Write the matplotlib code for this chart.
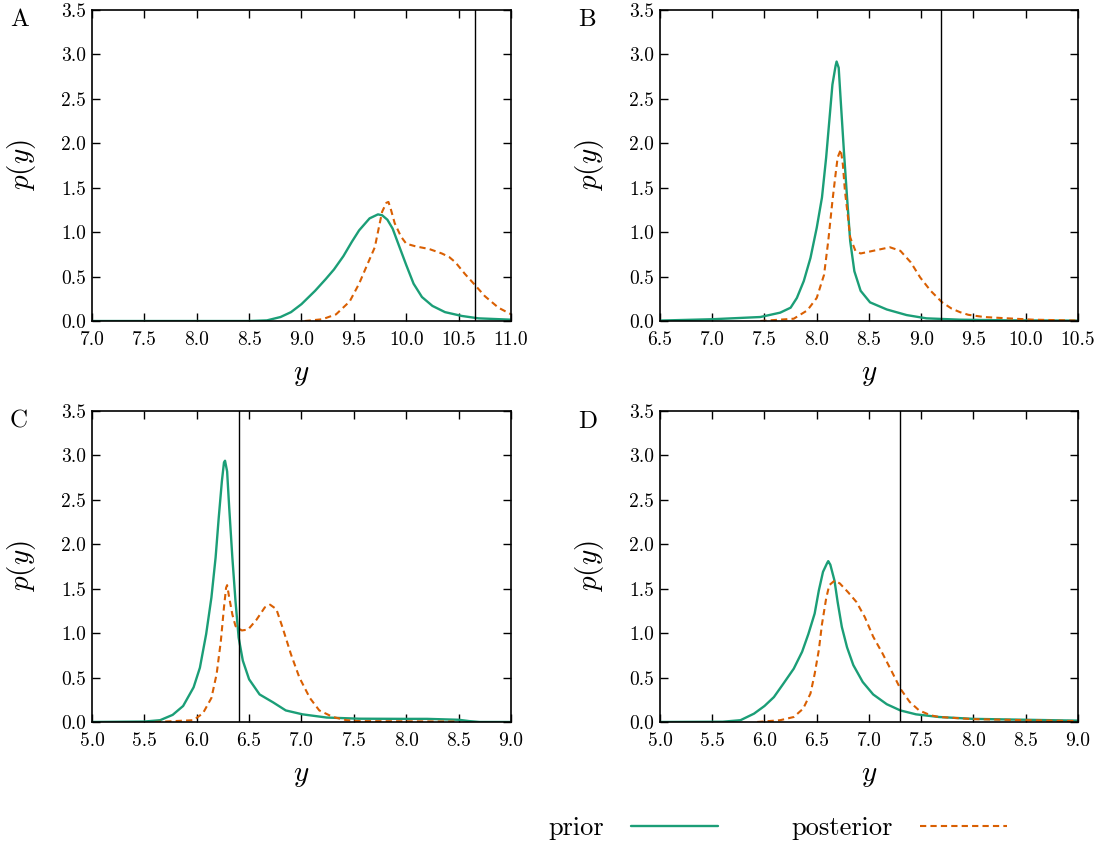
import matplotlib
matplotlib.use("Agg")
import matplotlib.pyplot as plt

plt.rcParams['font.family'] = 'serif'
plt.rcParams['font.serif'] = ['cmr10']
plt.rcParams['mathtext.fontset'] = 'cm'
plt.rcParams['axes.formatter.use_mathtext'] = True

GREEN = '#1b9e77'
ORANGE = '#d95f02'

# panel A
a_prior_x = [7.0, 8.0, 8.5, 8.67, 8.8, 8.9, 9.0, 9.13, 9.23, 9.31, 9.4, 9.48, 9.55, 9.65,
             9.73, 9.77, 9.82, 9.87, 9.93, 10.0, 10.07, 10.15, 10.25, 10.37, 10.53, 10.69, 11.0]
a_prior_y = [0.0, 0.0, 0.0, 0.007, 0.045, 0.1, 0.19, 0.34, 0.47, 0.58, 0.73, 0.89, 1.02, 1.155,
             1.2, 1.19, 1.14, 1.04, 0.85, 0.63, 0.42, 0.27, 0.17, 0.1, 0.057, 0.03, 0.015]
a_post_x = [9.03, 9.2, 9.33, 9.46, 9.55, 9.63, 9.7, 9.74, 9.77, 9.81, 9.83, 9.85, 9.89, 9.95,
            10.0, 10.09, 10.22, 10.34, 10.41, 10.47, 10.56, 10.66, 10.75, 10.88, 11.0]
a_post_y = [0.0, 0.02, 0.075, 0.22, 0.42, 0.64, 0.83, 1.06, 1.23, 1.33, 1.34, 1.27, 1.1, 0.95,
            0.87, 0.84, 0.81, 0.76, 0.72, 0.66, 0.53, 0.4, 0.28, 0.15, 0.076]

# panel B
b_prior_x = [6.5, 7.0, 7.46, 7.65, 7.75, 7.81, 7.876, 7.94, 8.0, 8.05, 8.09, 8.12, 8.15, 8.18,
             8.19, 8.21, 8.23, 8.26, 8.29, 8.32, 8.36, 8.42, 8.51, 8.67, 8.86, 9.05, 9.37, 9.8,
             10.5]
b_prior_y = [0.005, 0.02, 0.045, 0.094, 0.15, 0.26, 0.45, 0.71, 1.05, 1.39, 1.84, 2.25, 2.66,
             2.87, 2.92, 2.85, 2.47, 1.91, 1.39, 0.9, 0.56, 0.34, 0.21, 0.13, 0.067, 0.03,
             0.015, 0.008, 0.004]
b_post_x = [7.46, 7.78, 7.91, 8.0, 8.07, 8.11, 8.15, 8.18, 8.2, 8.23, 8.25, 8.27, 8.3, 8.32,
            8.37, 8.42, 8.54, 8.7, 8.8, 8.9, 8.99, 9.09, 9.2, 9.29, 9.37, 9.45, 9.6, 9.75,
            10.07, 10.5]
b_post_y = [0.0, 0.026, 0.12, 0.26, 0.52, 0.9, 1.35, 1.65, 1.84, 1.93, 1.76, 1.46, 1.16, 0.94,
            0.79, 0.76, 0.79, 0.83, 0.79, 0.66, 0.49, 0.34, 0.21, 0.14, 0.1, 0.07, 0.045,
            0.035, 0.015, 0.005]

# panel C
c_prior_x = [5.0, 5.5, 5.65, 5.77, 5.87, 5.97, 6.03, 6.09, 6.14, 6.18, 6.21, 6.24, 6.26, 6.27,
             6.29, 6.31, 6.34, 6.37, 6.4, 6.44, 6.5, 6.6, 6.73, 6.85, 7.01, 7.24, 7.55, 8.0,
             8.2, 8.5, 8.6, 8.7, 9.0]
c_prior_y = [0.0, 0.005, 0.02, 0.08, 0.18, 0.39, 0.61, 0.99, 1.4, 1.85, 2.3, 2.71, 2.92, 2.94,
             2.82, 2.41, 1.85, 1.36, 0.95, 0.69, 0.48, 0.31, 0.22, 0.13, 0.086, 0.05, 0.037,
             0.035, 0.035, 0.025, 0.01, 0.0, 0.0]
c_post_x = [5.6, 5.97, 6.06, 6.14, 6.19, 6.23, 6.26, 6.28, 6.29, 6.31, 6.34, 6.37, 6.43, 6.49,
            6.57, 6.65, 6.7, 6.76, 6.82, 6.9, 6.98, 7.08, 7.17, 7.3, 7.43, 7.55, 8.0, 8.5]
c_post_y = [0.0, 0.02, 0.1, 0.27, 0.54, 0.91, 1.29, 1.51, 1.54, 1.4, 1.21, 1.08, 1.03, 1.04,
            1.15, 1.29, 1.32, 1.27, 1.06, 0.76, 0.5, 0.27, 0.13, 0.056, 0.02, 0.01, 0.008,
            0.004]

# panel D
d_prior_x = [5.0, 5.6, 5.77, 5.9, 6.0, 6.09, 6.18, 6.28, 6.36, 6.42, 6.48, 6.52, 6.56, 6.6,
             6.61, 6.63, 6.67, 6.7, 6.74, 6.79, 6.85, 6.94, 7.04, 7.17, 7.3, 7.45, 7.67, 8.0,
             8.5, 9.0]
d_prior_y = [0.0, 0.003, 0.02, 0.094, 0.18, 0.28, 0.43, 0.6, 0.79, 0.99, 1.22, 1.48, 1.69,
             1.79, 1.81, 1.77, 1.59, 1.35, 1.07, 0.84, 0.64, 0.45, 0.31, 0.2, 0.13, 0.086,
             0.056, 0.035, 0.025, 0.015]
d_post_x = [5.93, 6.15, 6.28, 6.37, 6.44, 6.48, 6.52, 6.55, 6.59, 6.62, 6.67, 6.72, 6.8, 6.88,
            6.96, 7.04, 7.13, 7.23, 7.3, 7.39, 7.48, 7.59, 7.67, 8.0, 8.5, 9.0]
d_post_y = [0.0, 0.02, 0.056, 0.15, 0.32, 0.54, 0.81, 1.1, 1.39, 1.54, 1.59, 1.56, 1.46, 1.35,
            1.18, 0.96, 0.77, 0.54, 0.375, 0.225, 0.13, 0.075, 0.056, 0.032, 0.02, 0.01]

observed = [10.66, 9.19, 6.4, 7.3]
xlims = [(7.0, 11.0), (6.5, 10.5), (5.0, 9.0), (5.0, 9.0)]
letters = ['A', 'B', 'C', 'D']

panels = [(a_prior_x, a_prior_y, a_post_x, a_post_y),
          (b_prior_x, b_prior_y, b_post_x, b_post_y),
          (c_prior_x, c_prior_y, c_post_x, c_post_y),
          (d_prior_x, d_prior_y, d_post_x, d_post_y)]

# axes rectangles in figure fractions
rects = [(0.0831, 0.621, 0.3785, 0.3672),
         (0.5962, 0.621, 0.3776, 0.3672),
         (0.0831, 0.1476, 0.3785, 0.3672),
         (0.5962, 0.1476, 0.3776, 0.3672)]
letter_pos = [(0.009, 0.976), (0.522, 0.976), (0.009, 0.502), (0.522, 0.502)]

fig = plt.figure(figsize=(11.07, 8.47), dpi=100)

for i in range(4):
    ax = fig.add_axes(rects[i])
    px, py, qx, qy = panels[i]
    l1, = ax.plot(px, py, color=GREEN, lw=1.7, label='prior',
                  solid_joinstyle='round', solid_capstyle='round')
    l2, = ax.plot(qx, qy, color=ORANGE, lw=1.5, ls=(0, (3, 2)), label='posterior',
                  dash_joinstyle='round')
    ax.axvline(observed[i], color='black', lw=1.0)
    lo, hi = xlims[i]
    ax.set_xlim(lo, hi)
    ax.set_ylim(0, 3.5)
    xt = [lo + 0.5 * k for k in range(int((hi - lo) / 0.5) + 1)]
    ax.set_xticks(xt)
    ax.set_yticks([0.5 * k for k in range(8)])
    ax.set_xticklabels(['%.1f' % v for v in xt])
    ax.set_yticklabels(['%.1f' % (0.5 * k) for k in range(8)])
    ax.tick_params(direction='in', top=True, right=True, length=6, width=1, labelsize=14)
    ax.tick_params(axis='x', pad=7)
    ax.tick_params(axis='y', pad=4.5)
    for s in ax.spines.values():
        s.set_linewidth(1.2)
    ax.set_xlabel(r'$y$', fontsize=21)
    ax.set_ylabel(r'$p(y)$', fontsize=21)
    ax.xaxis.set_label_coords(0.5, -0.132)
    ax.yaxis.set_label_coords(-0.128, 0.5)
    fig.text(letter_pos[i][0], letter_pos[i][1], letters[i], fontsize=18, va='center', ha='left')

fig.legend([l1, l2], ['prior', 'posterior'], loc='center', bbox_to_anchor=(0.7024, 0.022),
           ncol=2, frameon=False, markerfirst=False, fontsize=19, handlelength=3.3,
           handletextpad=1.05, columnspacing=2.75)

fig.savefig('out.png', dpi=100)
